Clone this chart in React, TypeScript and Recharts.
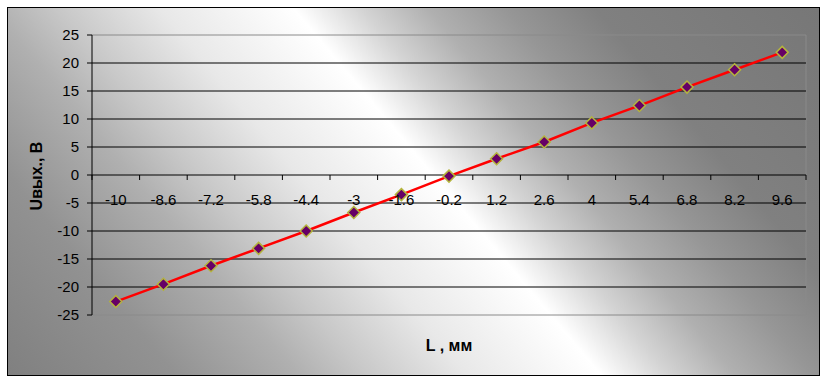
import React from 'react';
import { LineChart, Line, XAxis, YAxis, CartesianGrid, ReferenceLine } from 'recharts';

// ---- data ----
const categories = ['-10', '-8.6', '-7.2', '-5.8', '-4.4', '-3', '-1.6', '-0.2', '1.2', '2.6', '4', '5.4', '6.8', '8.2', '9.6'];
const outputVoltage = [-22.6, -19.5, -16.2, -13.1, -10.0, -6.7, -3.5, -0.2, 2.9, 5.9, 9.3, 12.4, 15.7, 18.8, 21.9];
const yTicks = [-25, -20, -15, -10, -5, 0, 5, 10, 15, 20, 25];
const gridValues = [-20, -15, -10, -5, 5, 10, 15, 20];
const borderValues = [-25, 25];
const yTitle = 'Uвых., В';
const xTitle = 'L , мм';

const data = categories.map((c, i) => ({ L: c, U: outputVoltage[i] }));

// ---- layout ----
const W = 811;
const H = 367;
const PLOT_LEFT = 84;
const PLOT_RIGHT = 798;
const PLOT_TOP = 27;
const PLOT_BOTTOM = 307;
const PLOT_W = PLOT_RIGHT - PLOT_LEFT;
const PLOT_H = PLOT_BOTTOM - PLOT_TOP;
const Y_MIN = -25;
const Y_MAX = 25;
const BAND = PLOT_W / categories.length;
const ZERO_Y = PLOT_TOP + (PLOT_H * (Y_MAX - 0)) / (Y_MAX - Y_MIN);
const FONT = "'Liberation Sans', Arial, sans-serif";

const XTick = (props: any) => {
  const { x, payload, index } = props;
  const isLast = index === categories.length - 1;
  return (
    <g>
      <line x1={x - BAND / 2} y1={ZERO_Y} x2={x - BAND / 2} y2={ZERO_Y + 5} stroke="#000" strokeWidth={1} />
      {isLast && <line x1={x + BAND / 2} y1={ZERO_Y} x2={x + BAND / 2} y2={ZERO_Y + 5} stroke="#000" strokeWidth={1} />}
      <text x={x} y={ZERO_Y + 19} dy="0.71em" textAnchor="middle" fontSize={15} fontFamily={FONT} fill="#000">
        {payload.value}
      </text>
    </g>
  );
};

const Diamond = (props: any) => {
  const { cx, cy, index } = props;
  if (cx == null || cy == null) return <g key={index} />;
  const r = 6;
  const pts = `${cx},${cy - r} ${cx + r},${cy} ${cx},${cy + r} ${cx - r},${cy}`;
  return <polygon key={index} points={pts} fill="#660066" stroke="#b4b43c" strokeWidth={1.5} />;
};

const YTitle = (props: any) => {
  const vb = props.viewBox || { x: 0, y: PLOT_TOP, width: PLOT_LEFT, height: PLOT_H };
  const cx = vb.x + 28;
  const cy = vb.y + vb.height / 2 + 1;
  return (
    <text
      x={cx}
      y={cy}
      transform={`rotate(-90, ${cx}, ${cy})`}
      textAnchor="middle"
      dominantBaseline="central"
      fontSize={16}
      fontWeight="bold"
      fontFamily={FONT}
      fill="#000"
    >
      {yTitle}
    </text>
  );
};

const XTitle = (props: any) => {
  const vb = props.viewBox || { x: PLOT_LEFT, y: PLOT_BOTTOM, width: PLOT_W, height: H - PLOT_BOTTOM };
  const cx = vb.x + vb.width / 2;
  const cy = vb.y + 30;
  return (
    <text x={cx} y={cy} textAnchor="middle" dominantBaseline="central" fontSize={16} fontWeight="bold" fontFamily={FONT} fill="#000">
      {xTitle}
    </text>
  );
};

export default function App() {
  return (
    <div
      style={{
        position: 'absolute',
        left: 7,
        top: 7,
        width: W,
        height: H,
        border: '1px solid #000',
        background:
          'linear-gradient(50deg, #808080 0%, #929292 15%, #b0b0b0 26%, #c8c8c8 32%, #e8e8e8 41%, #ffffff 53%, #d4d4d4 59%, #b0b0b0 65%, #969696 72%, #808080 80%, #777777 100%)',
      }}
    >
      <LineChart
        width={W}
        height={H}
        data={data}
        margin={{ top: PLOT_TOP, right: W - PLOT_RIGHT, bottom: 0, left: 0 }}
      >
        <CartesianGrid
          horizontalValues={borderValues}
          verticalPoints={[PLOT_RIGHT]}
          stroke="#8a8a8a"
          strokeWidth={1}
          fill="none"
        />
        <CartesianGrid horizontalValues={gridValues} vertical={false} stroke="#000" strokeWidth={1} fill="none" />
        <ReferenceLine y={0} stroke="#000" strokeWidth={1} />
        <XAxis
          dataKey="L"
          type="category"
          interval={0}
          axisLine={false}
          tickLine={false}
          tick={<XTick />}
          height={H - PLOT_BOTTOM}
          padding={{ left: BAND / 2, right: BAND / 2 }}
          label={<XTitle />}
        />
        <YAxis
          domain={[Y_MIN, Y_MAX]}
          ticks={yTicks}
          interval={0}
          width={PLOT_LEFT}
          axisLine={{ stroke: '#000', strokeWidth: 1 }}
          tickLine={{ stroke: '#000', strokeWidth: 1 }}
          tickSize={5}
          tickMargin={8}
          tick={{ fontSize: 15, fontFamily: FONT, fill: '#000' }}
          label={<YTitle />}
        />
        <Line
          type="linear"
          dataKey="U"
          stroke="#ff0000"
          strokeWidth={2.5}
          dot={Diamond}
          activeDot={false}
          isAnimationActive={false}
        />
      </LineChart>
    </div>
  );
}
